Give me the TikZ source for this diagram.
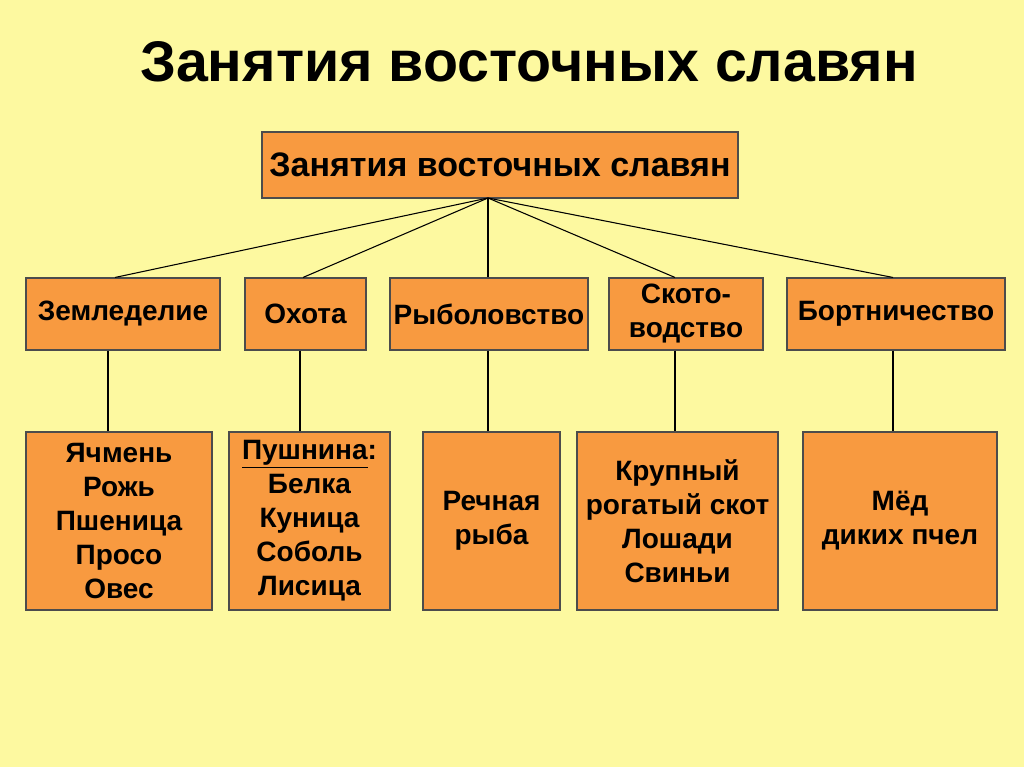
\documentclass[tikz,border=0pt]{standalone}
\usepackage{fontspec}
\setmainfont{Liberation Sans}
\begin{document}
\begin{tikzpicture}[x=0.75pt,y=-0.75pt,
  box/.style={draw=black!70,fill=boxor,line width=0.8pt,inner sep=0pt,align=center,font=\bfseries\fontsize{21}{25.5}\selectfont},
  link/.style={draw=black,line width=0.8pt}]
\definecolor{bg}{HTML}{FDF9A0}
\definecolor{boxor}{HTML}{F89A40}
\fill[bg] (0,0) rectangle (1024,767);
\node[font=\bfseries\fontsize{43}{46}\selectfont] (title) at (529,62) {Занятия восточных славян};
\node[box,minimum width=476*0.75pt,minimum height=66*0.75pt,font=\bfseries\fontsize{25.5}{28}\selectfont] (top) at (500,165) {Занятия восточных славян};
\coordinate (hub) at (488,198);
\node[box,minimum width=194*0.75pt,minimum height=72*0.75pt] (b1) at (123,314) {Земледелие};
\node[box,minimum width=121*0.75pt,minimum height=72*0.75pt] (b2) at (305.5,314) {Охота};
\node[box,minimum width=198*0.75pt,minimum height=72*0.75pt] (b3) at (489,314) {Рыболовство};
\node[box,minimum width=154*0.75pt,minimum height=72*0.75pt] (b4) at (686,314) {Ското-\\водство};
\node[box,minimum width=218*0.75pt,minimum height=72*0.75pt] (b5) at (896,314) {Бортничество};
\node[box,minimum width=186*0.75pt,minimum height=178*0.75pt] (c1) at (119,521) {Ячмень\\Рожь\\Пшеница\\Просо\\Овес};
\node[box,minimum width=161*0.75pt,minimum height=178*0.75pt] (c2) at (309.5,521) {\underline{Пушнина}:\\Белка\\Куница\\Соболь\\Лисица};
\node[box,minimum width=137*0.75pt,minimum height=178*0.75pt] (c3) at (491.5,521) {Речная\\рыба};
\node[box,minimum width=201*0.75pt,minimum height=178*0.75pt] (c4) at (677.5,521) {Крупный\\рогатый скот\\Лошади\\Свиньи};
\node[box,minimum width=194*0.75pt,minimum height=178*0.75pt] (c5) at (900,521) {Мёд\\диких пчел};
\draw[link] (hub) -- (b1.north -| 115,0);
\draw[link] (hub) -- (b2.north -| 303,0);
\draw[link] (hub) -- (b3.north -| 488,0);
\draw[link] (hub) -- (b4.north -| 675,0);
\draw[link] (hub) -- (b5.north -| 893,0);
\draw[link] (b1.south -| 108,0) -- (c1.north -| 108,0);
\draw[link] (b2.south -| 300,0) -- (c2.north -| 300,0);
\draw[link] (b3.south -| 488,0) -- (c3.north -| 488,0);
\draw[link] (b4.south -| 675,0) -- (c4.north -| 675,0);
\draw[link] (b5.south -| 893,0) -- (c5.north -| 893,0);
\end{tikzpicture}
\end{document}
